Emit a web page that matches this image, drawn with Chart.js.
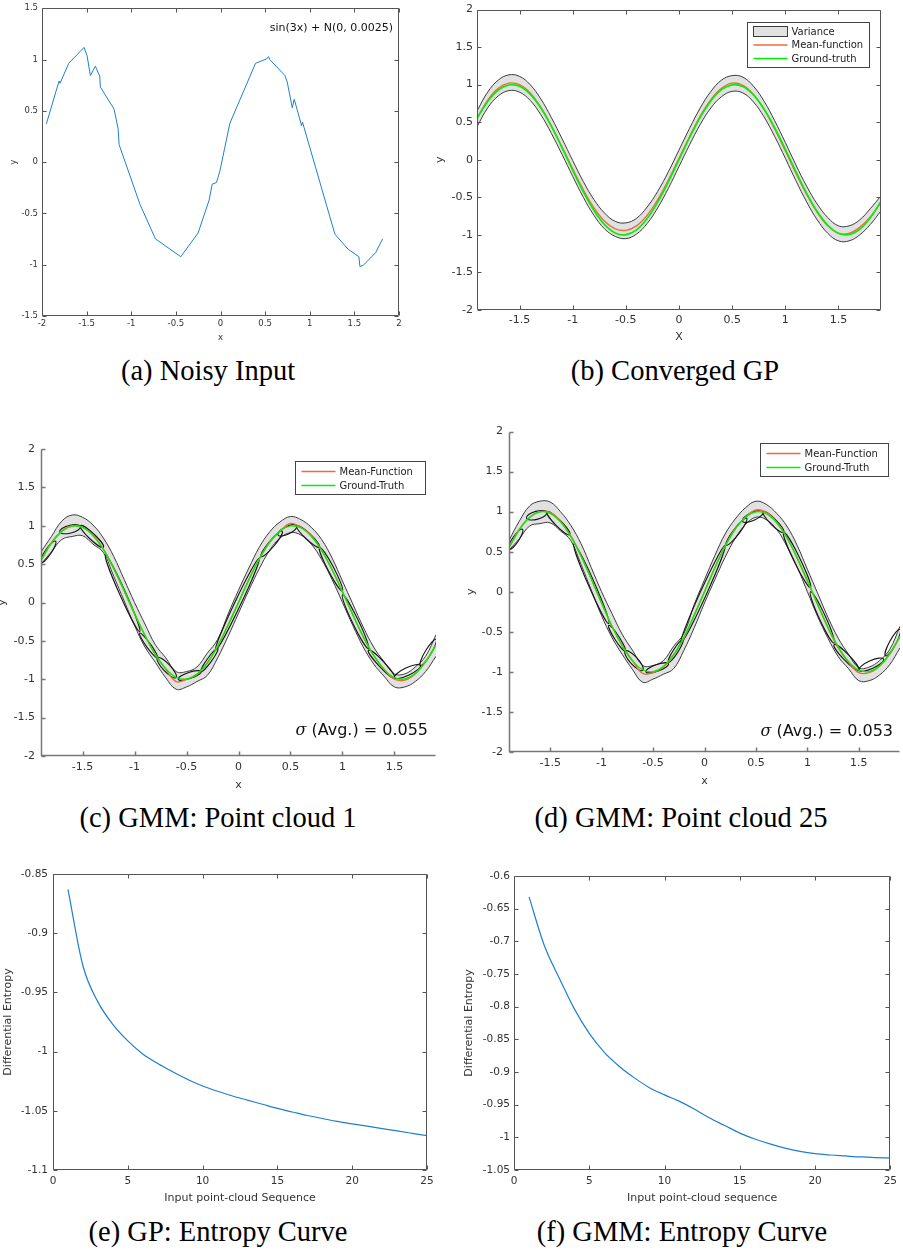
<!DOCTYPE html>
<html>
<head>
<meta charset="utf-8">
<script src="https://cdn.jsdelivr.net/npm/chart.js@4.4.1/dist/chart.umd.min.js"></script>
<style>
  html, body { margin: 0; padding: 0; background: #fff; }
  body { width: 903px; height: 1251px; position: relative; overflow: hidden; }
  .panel { position: absolute; }
  .caption {
    position: absolute; width: 450px; text-align: center;
    font-family: "Liberation Serif", "Times New Roman", serif; font-size: 28.5px; line-height: 30px; color: #000;
  }
</style>
</head>
<body>
<div class="panel" style="left:0;top:0;width:410px;height:345px"><canvas id="noisyChart"></canvas></div>
<div class="panel" style="left:432px;top:0;width:462px;height:345px"><canvas id="gpChart"></canvas></div>
<div class="panel" style="left:-6px;top:420px;width:451px;height:375px"><canvas id="gmm1Chart"></canvas></div>
<div class="panel" style="left:455px;top:420px;width:448px;height:375px"><canvas id="gmm25Chart"></canvas></div>
<div class="panel" style="left:0;top:860px;width:440px;height:350px"><canvas id="gpEntropyChart"></canvas></div>
<div class="panel" style="left:455px;top:860px;width:448px;height:350px"><canvas id="gmmEntropyChart"></canvas></div>

<div class="caption" style="left:-17px;top:356px">(a) Noisy Input</div>
<div class="caption" style="left:450px;top:356px">(b) Converged GP</div>
<div class="caption" style="left:-7px;top:803px">(c) GMM: Point cloud 1</div>
<div class="caption" style="left:456px;top:803px">(d) GMM: Point cloud 25</div>
<div class="caption" style="left:-7px;top:1217px">(e) GP: Entropy Curve</div>
<div class="caption" style="left:457px;top:1217px">(f) GMM: Entropy Curve</div>

<script>
// ---- data ----

// (a) noisy samples of sin(3x)
const noisyX = [-1.951, -1.809, -1.798, -1.70, -1.529, -1.495, -1.458, -1.402, -1.353, -1.346,
  -1.193, -1.148, -1.136, -0.901, -0.729, -0.445, -0.251, -0.127, -0.093, -0.045,
  -0.007, 0.105, 0.393, 0.516, 0.538, 0.553, 0.721, 0.748, 0.804, 0.826,
  0.908, 0.919, 1.282, 1.432, 1.551, 1.562, 1.600, 1.738, 1.817];
const noisyY = [0.373, 0.79, 0.768, 0.964, 1.118, 1.037, 0.845, 0.935, 0.838, 0.732,
  0.517, 0.331, 0.170, -0.414, -0.748, -0.922, -0.691, -0.369, -0.215, -0.199,
  -0.087, 0.379, 0.964, 1.005, 1.028, 0.999, 0.845, 0.780, 0.530, 0.613,
  0.357, 0.389, -0.703, -0.851, -0.922, -1.018, -1.005, -0.883, -0.748];

// common x grid for (b), (c), (d)
const gridX = [-1.9, -1.8, -1.7, -1.6, -1.5, -1.4, -1.3, -1.2, -1.1, -1.0,
  -0.9, -0.8, -0.7, -0.6, -0.5, -0.4, -0.3, -0.2, -0.1, 0,
  0.1, 0.2, 0.3, 0.4, 0.5, 0.6, 0.7, 0.8, 0.9, 1.0,
  1.1, 1.2, 1.3, 1.4, 1.5, 1.6, 1.7, 1.8, 1.9];
const groundTruth = [0.551, 0.773, 0.926, 0.996, 0.978, 0.872, 0.688, 0.443, 0.158, -0.141,
  -0.427, -0.675, -0.863, -0.974, -0.997, -0.932, -0.783, -0.565, -0.296, 0,
  0.296, 0.565, 0.783, 0.932, 0.997, 0.974, 0.863, 0.675, 0.427, 0.141,
  -0.158, -0.443, -0.688, -0.872, -0.978, -0.996, -0.926, -0.773, -0.551];

// (b) converged GP
const gpMean = [0.55, 0.79, 0.95, 1.02, 1.00, 0.89, 0.70, 0.45, 0.17, -0.12,
  -0.40, -0.64, -0.82, -0.92, -0.94, -0.88, -0.74, -0.53, -0.27, 0.02,
  0.31, 0.58, 0.80, 0.95, 1.02, 0.99, 0.87, 0.67, 0.41, 0.12,
  -0.18, -0.46, -0.70, -0.88, -0.98, -0.98, -0.90, -0.76, -0.57];
const gpUpper = [0.65, 0.90, 1.06, 1.13, 1.11, 1.00, 0.81, 0.56, 0.28, -0.01,
  -0.29, -0.53, -0.71, -0.82, -0.84, -0.78, -0.63, -0.42, -0.16, 0.13,
  0.42, 0.69, 0.91, 1.06, 1.12, 1.10, 0.98, 0.78, 0.52, 0.23,
  -0.07, -0.35, -0.59, -0.77, -0.88, -0.88, -0.80, -0.65, -0.48];
const gpLower = [0.44, 0.69, 0.85, 0.92, 0.90, 0.79, 0.60, 0.35, 0.07, -0.22,
  -0.50, -0.74, -0.92, -1.02, -1.05, -0.99, -0.85, -0.64, -0.38, -0.09,
  0.20, 0.47, 0.69, 0.84, 0.91, 0.89, 0.77, 0.57, 0.31, 0.02,
  -0.28, -0.56, -0.80, -0.98, -1.08, -1.08, -1.00, -0.86, -0.68];

// (c) GMM, point cloud 1
const gmm1Mean = [0.55, 0.78, 0.93, 1.00, 0.98, 0.88, 0.70, 0.44, 0.15, -0.15,
  -0.43, -0.68, -0.87, -1.03, -1.00, -0.94, -0.79, -0.57, -0.29, 0.00,
  0.30, 0.57, 0.79, 0.93, 1.03, 0.98, 0.87, 0.68, 0.43, 0.14,
  -0.16, -0.45, -0.69, -0.87, -1.00, -1.01, -0.93, -0.77, -0.55];
const gmm1Upper = [0.66, 0.86, 1.06, 1.14, 1.11, 1.01, 0.84, 0.60, 0.30, 0.00,
  -0.28, -0.55, -0.72, -0.90, -0.90, -0.84, -0.66, -0.48, -0.15, 0.16,
  0.45, 0.72, 0.92, 1.05, 1.12, 1.08, 0.98, 0.82, 0.58, 0.28,
  -0.02, -0.32, -0.58, -0.77, -0.93, -0.93, -0.84, -0.70, -0.42];
const gmm1Lower = [0.50, 0.66, 0.82, 0.86, 0.87, 0.76, 0.65, 0.34, 0.02, -0.30,
  -0.58, -0.78, -0.98, -1.13, -1.10, -1.03, -0.95, -0.72, -0.44, -0.14,
  0.16, 0.44, 0.68, 0.84, 0.91, 0.88, 0.76, 0.56, 0.30, 0.00,
  -0.30, -0.58, -0.80, -0.96, -1.10, -1.10, -1.03, -0.90, -0.70];
// components: [x1, y1, x2, y2, half-width]
const gmm1Components = [
  [-1.90, 0.52, -1.76, 0.80, 0.04], [-1.72, 0.92, -1.52, 0.99, 0.05], [-1.52, 1.00, -1.30, 0.72, 0.04],
  [-1.28, 0.62, -0.95, -0.38, 0.04], [-0.95, -0.40, -0.78, -0.72, 0.03], [-0.78, -0.72, -0.60, -0.98, 0.05],
  [-0.58, -1.00, -0.36, -0.90, 0.04], [-0.36, -0.90, -0.20, -0.60, 0.03], [-0.22, -0.62, 0.20, 0.58, 0.04],
  [0.22, 0.60, 0.42, 0.93, 0.04], [0.38, 0.88, 0.56, 1.00, 0.05], [0.56, 1.00, 0.78, 0.72, 0.04],
  [0.78, 0.72, 1.00, 0.15, 0.04], [1.00, 0.10, 1.25, -0.60, 0.04], [1.25, -0.62, 1.50, -0.98, 0.04],
  [1.50, -0.98, 1.75, -0.82, 0.05], [1.75, -0.82, 1.90, -0.48, 0.04]
];

// (d) GMM, point cloud 25
const gmm25Mean = [0.55, 0.78, 0.93, 1.00, 0.99, 0.88, 0.70, 0.45, 0.16, -0.14,
  -0.43, -0.67, -0.86, -1.02, -1.01, -0.94, -0.79, -0.58, -0.29, 0.00,
  0.30, 0.57, 0.79, 0.93, 1.02, 0.99, 0.87, 0.68, 0.42, 0.13,
  -0.16, -0.45, -0.70, -0.88, -1.01, -1.01, -0.93, -0.78, -0.56];
const gmm25Upper = [0.64, 0.88, 1.07, 1.13, 1.12, 1.00, 0.83, 0.60, 0.30, 0.00,
  -0.27, -0.53, -0.73, -0.92, -0.92, -0.86, -0.68, -0.52, -0.16, 0.15,
  0.45, 0.72, 0.91, 1.05, 1.13, 1.09, 0.98, 0.82, 0.58, 0.28,
  -0.02, -0.32, -0.58, -0.78, -0.95, -0.94, -0.86, -0.72, -0.43];
const gmm25Lower = [0.52, 0.66, 0.82, 0.85, 0.86, 0.76, 0.64, 0.34, 0.02, -0.30,
  -0.57, -0.78, -0.97, -1.13, -1.09, -1.03, -0.96, -0.73, -0.45, -0.14,
  0.15, 0.43, 0.67, 0.84, 0.93, 0.90, 0.78, 0.57, 0.31, 0.00,
  -0.31, -0.58, -0.81, -0.96, -1.11, -1.11, -1.04, -0.91, -0.70];
const gmm25Components = [
  [-1.90, 0.53, -1.77, 0.78, 0.04], [-1.73, 0.92, -1.53, 0.99, 0.05], [-1.53, 1.00, -1.31, 0.71, 0.04],
  [-1.27, 0.60, -0.93, -0.40, 0.04], [-0.93, -0.42, -0.77, -0.74, 0.03], [-0.77, -0.74, -0.60, -0.98, 0.05],
  [-0.57, -1.00, -0.35, -0.90, 0.04], [-0.35, -0.88, -0.21, -0.60, 0.03], [-0.23, -0.64, 0.20, 0.58, 0.04],
  [0.21, 0.58, 0.41, 0.92, 0.04], [0.37, 0.88, 0.57, 1.00, 0.05], [0.57, 1.00, 0.77, 0.74, 0.04],
  [0.77, 0.74, 1.03, 0.05, 0.04], [1.03, 0.00, 1.26, -0.64, 0.04], [1.26, -0.66, 1.50, -0.98, 0.04],
  [1.50, -0.98, 1.74, -0.84, 0.05], [1.76, -0.80, 1.90, -0.47, 0.04]
];

// (e) and (f) entropy curves
const sequence = [1, 2, 3, 4, 5, 6, 7, 8, 9, 10, 11, 12, 13, 14, 15, 16, 17, 18, 19, 20, 21, 22, 23, 24, 25];
const gpEntropy = [-0.863, -0.9275, -0.958, -0.977, -0.991, -1.002, -1.010, -1.017, -1.0235, -1.029,
  -1.0335, -1.0375, -1.041, -1.0445, -1.048, -1.051, -1.054, -1.0565, -1.059, -1.061,
  -1.063, -1.065, -1.067, -1.069, -1.071];
const gmmEntropy = [-0.632, -0.7055, -0.756, -0.803, -0.841, -0.870, -0.8915, -0.909, -0.924, -0.935,
  -0.945, -0.957, -0.9705, -0.982, -0.9935, -1.0025, -1.010, -1.0165, -1.0215, -1.025,
  -1.027, -1.0285, -1.030, -1.031, -1.0315];

// tick values
const noisyXTicks = [-2, -1.5, -1, -0.5, 0, 0.5, 1, 1.5, 2];
const noisyYTicks = [-1.5, -1, -0.5, 0, 0.5, 1, 1.5];
const sineXTicks = [-1.5, -1, -0.5, 0, 0.5, 1, 1.5];
const sineYTicks = [-2, -1.5, -1, -0.5, 0, 0.5, 1, 1.5, 2];
const seqTicks = [0, 5, 10, 15, 20, 25];
const gpEntropyTicks = [-1.1, -1.05, -1, -0.95, -0.9, -0.85];
const gmmEntropyTicks = [-1.05, -1, -0.95, -0.9, -0.85, -0.8, -0.75, -0.7, -0.65, -0.6];

// ---- styling ----
const FONT = '"DejaVu Sans", sans-serif';
const MEAN_COLOR = '#ee6a3c';
const TRUTH_COLOR = '#00f000';
const BAND_FILL = '#e1e1e1';
const BAND_EDGE = '#3c3c3c';
const BLUE = '#1f7fcc';

const pts = (xs, ys) => xs.map((x, i) => ({ x: x, y: ys[i] }));

// linear axis with fixed thickness so the plot box lands where the figure has it
function axis(o) {
    const horizontal = o.horizontal;
    return {
        type: 'linear',
        min: o.min,
        max: o.max,
        grid: { display: false, drawTicks: false },
        border: { display: false },
        afterBuildTicks: (s) => { s.ticks = o.ticks.map((v) => ({ value: v })); },
        afterFit: (s) => { if (horizontal) s.height = o.size; else s.width = o.size; },
        ticks: {
            color: '#333',
            padding: o.pad,
            maxRotation: 0,
            autoSkip: false,
            font: { family: FONT, size: o.font, lineHeight: 1 },
            callback: (v) => String(+Number(v).toFixed(3)),
        },
        title: {
            display: true,
            text: o.title,
            color: '#333',
            font: { family: FONT, size: o.titleFont, lineHeight: 1.2 },
            padding: horizontal ? { top: 0, bottom: o.titlePad } : { top: o.titlePad, bottom: 0 },
        },
    };
}

// matlab style frame with inward ticks
function frame(box, color, width) {
    return {
        id: 'frame',
        afterDatasetsDraw(chart) {
            const { ctx, chartArea: a, scales } = chart;
            const L = Math.round(a.left) + 0.5, R = Math.round(a.right) - 0.5;
            const T = Math.round(a.top) + 0.5, B = Math.round(a.bottom) - 0.5;
            const t = 4;
            ctx.save();
            ctx.strokeStyle = color;
            ctx.lineWidth = width;
            ctx.beginPath();
            ctx.moveTo(L, T); ctx.lineTo(L, B); ctx.lineTo(R, B);
            if (box) { ctx.lineTo(R, T); ctx.lineTo(L, T); }
            scales.x.ticks.forEach((tk, i) => {
                const px = Math.round(scales.x.getPixelForTick(i)) + 0.5;
                ctx.moveTo(px, B); ctx.lineTo(px, B - t);
                if (box) { ctx.moveTo(px, T); ctx.lineTo(px, T + t); }
            });
            scales.y.ticks.forEach((tk, i) => {
                const py = Math.round(scales.y.getPixelForTick(i)) + 0.5;
                ctx.moveTo(L, py); ctx.lineTo(L + t, py);
                if (box) { ctx.moveTo(R, py); ctx.lineTo(R - t, py); }
            });
            ctx.stroke();
            ctx.restore();
        },
    };
}

// boxed legend in the top right of the plot area
function boxLegend(items, box) {
    return {
        id: 'boxLegend',
        afterDraw(chart) {
            const { ctx, chartArea: a } = chart;
            const x0 = Math.round(a.right - box.right - box.w) + 0.5;
            const y0 = Math.round(a.top + box.top) + 0.5;
            ctx.save();
            ctx.fillStyle = '#fff';
            ctx.fillRect(x0, y0, box.w, box.h);
            ctx.strokeStyle = '#444';
            ctx.lineWidth = 1;
            ctx.strokeRect(x0, y0, box.w, box.h);
            ctx.font = '10px ' + FONT;
            ctx.textBaseline = 'middle';
            items.forEach((it, i) => {
                const cy = y0 + box.first + i * box.gap;
                if (it.patch) {
                    ctx.fillStyle = BAND_FILL;
                    ctx.fillRect(x0 + 6, cy - 5, 34, 10);
                    ctx.strokeStyle = BAND_EDGE;
                    ctx.strokeRect(x0 + 6, cy - 5, 34, 10);
                } else {
                    ctx.strokeStyle = it.color;
                    ctx.lineWidth = 1.5;
                    ctx.beginPath();
                    ctx.moveTo(x0 + 6, cy); ctx.lineTo(x0 + 40, cy);
                    ctx.stroke();
                    ctx.lineWidth = 1;
                }
                ctx.fillStyle = '#222';
                ctx.fillText(it.label, x0 + 44, cy + 0.5);
            });
            ctx.restore();
        },
    };
}

// text note inside the plot area, right aligned
function note(parts, dx, dy, fromBottom) {
    return {
        id: 'note',
        afterDraw(chart) {
            const { ctx, chartArea: a } = chart;
            ctx.save();
            ctx.textBaseline = 'middle';
            ctx.fillStyle = '#111';
            let total = 0;
            parts.forEach((p) => { ctx.font = p.font; total += ctx.measureText(p.text).width; });
            let x = a.right - dx - total;
            const y = fromBottom ? a.bottom - dy : a.top + dy;
            parts.forEach((p) => {
                ctx.font = p.font;
                ctx.fillText(p.text, x, y);
                x += ctx.measureText(p.text).width;
            });
            ctx.restore();
        },
    };
}

// GMM component outlines, drawn right after the band
function components(list, afterIndex) {
    return {
        id: 'components',
        afterDatasetDraw(chart, args) {
            if (args.index !== afterIndex) return;
            const { ctx, chartArea: a, scales: { x, y } } = chart;
            ctx.save();
            ctx.beginPath();
            ctx.rect(a.left, a.top, a.right - a.left, a.bottom - a.top);
            ctx.clip();
            ctx.strokeStyle = '#151515';
            ctx.lineWidth = 1.1;
            list.forEach(([x1, y1, x2, y2, w]) => {
                const ax = x.getPixelForValue(x1), ay = y.getPixelForValue(y1);
                const bx = x.getPixelForValue(x2), by = y.getPixelForValue(y2);
                const rx = Math.hypot(bx - ax, by - ay) / 2;
                const ry = Math.abs(y.getPixelForValue(0) - y.getPixelForValue(w));
                ctx.beginPath();
                ctx.ellipse((ax + bx) / 2, (ay + by) / 2, rx, ry, Math.atan2(by - ay, bx - ax), 0, Math.PI * 2);
                ctx.stroke();
            });
            ctx.restore();
        },
    };
}

function makeChart(id, datasets, xAxis, yAxis, padding, plugins) {
    return new Chart(document.getElementById(id), {
        type: 'line',
        data: { datasets: datasets },
        options: {
            responsive: true,
            maintainAspectRatio: false,
            animation: false,
            layout: { padding: padding },
            plugins: {
                legend: { display: false },
                tooltip: { enabled: false },
                filler: { drawTime: 'beforeDatasetsDraw' },
            },
            scales: { x: xAxis, y: yAxis },
        },
        plugins: plugins,
    });
}

function sineDatasets(mean, upper, lower, truthWidth) {
    return [
        { label: 'Ground-truth', data: pts(gridX, groundTruth), borderColor: TRUTH_COLOR, borderWidth: truthWidth, pointRadius: 0, tension: 0.4 },
        { label: 'Mean-function', data: pts(gridX, mean), borderColor: MEAN_COLOR, borderWidth: 1.4, pointRadius: 0, tension: 0.4 },
        { label: 'Variance', data: pts(gridX, upper), borderColor: BAND_EDGE, backgroundColor: BAND_FILL, borderWidth: 1, fill: '+1', pointRadius: 0, tension: 0.4 },
        { label: 'Lower', data: pts(gridX, lower), borderColor: BAND_EDGE, borderWidth: 1, fill: false, pointRadius: 0, tension: 0.4 },
    ];
}

// (a) noisy input
makeChart('noisyChart',
    [{ data: pts(noisyX, noisyY), borderColor: BLUE, borderWidth: 1, pointRadius: 0, tension: 0 }],
    axis({ horizontal: true, min: -2, max: 2, ticks: noisyXTicks, size: 29, pad: 4, font: 8.5, title: 'x', titleFont: 8.5, titlePad: 2 }),
    axis({ horizontal: false, min: -1.5, max: 1.5, ticks: noisyYTicks, size: 42, pad: 4, font: 8.5, title: 'y', titleFont: 8.5, titlePad: 9 }),
    { left: 0, top: 5, right: 11, bottom: 0 },
    [frame(true, '#555', 1), note([{ text: 'sin(3x) + N(0, 0.0025)', font: '11px ' + FONT }], 6, 20, false)]);

// (b) converged GP
makeChart('gpChart',
    sineDatasets(gpMean, gpUpper, gpLower, 1.6),
    axis({ horizontal: true, min: -1.9, max: 1.9, ticks: sineXTicks, size: 35, pad: 5, font: 11, title: 'X', titleFont: 11, titlePad: 1 }),
    axis({ horizontal: false, min: -2, max: 2, ticks: sineYTicks, size: 45, pad: 4, font: 11, title: 'y', titleFont: 11, titlePad: 2 }),
    { left: 0, top: 5, right: 13, bottom: 0 },
    [frame(true, '#555', 1), boxLegend([
        { label: 'Variance', patch: true },
        { label: 'Mean-function', color: MEAN_COLOR },
        { label: 'Ground-truth', color: TRUTH_COLOR },
    ], { right: 12, top: 12, w: 122, h: 45, first: 9, gap: 13.5 })]);

// (c) GMM point cloud 1
makeChart('gmm1Chart',
    sineDatasets(gmm1Mean, gmm1Upper, gmm1Lower, 1.3),
    axis({ horizontal: true, min: -1.9, max: 1.9, ticks: sineXTicks, size: 39, pad: 6, font: 11, title: 'x', titleFont: 11, titlePad: 3 }),
    axis({ horizontal: false, min: -2, max: 2, ticks: sineYTicks, size: 47, pad: 6, font: 11, title: 'y', titleFont: 11, titlePad: 2 }),
    { left: 0, top: 29, right: 9, bottom: 0 },
    [components(gmm1Components, 2), frame(false, '#777', 1.5),
     boxLegend([
        { label: 'Mean-Function', color: MEAN_COLOR },
        { label: 'Ground-Truth', color: TRUTH_COLOR },
     ], { right: 11, top: 12, w: 130, h: 33, first: 10, gap: 14 }),
     note([{ text: 'σ', font: 'italic 16px "DejaVu Serif", serif' }, { text: ' (Avg.) = 0.055', font: '16px ' + FONT }], 8, 25, true)]);

// (d) GMM point cloud 25
makeChart('gmm25Chart',
    sineDatasets(gmm25Mean, gmm25Upper, gmm25Lower, 1.3),
    axis({ horizontal: true, min: -1.9, max: 1.9, ticks: sineXTicks, size: 43, pad: 6, font: 11, title: 'x', titleFont: 11, titlePad: 7 }),
    axis({ horizontal: false, min: -2, max: 2, ticks: sineYTicks, size: 54, pad: 6, font: 11, title: 'y', titleFont: 11, titlePad: 10 }),
    { left: 0, top: 8, right: 3, bottom: 0 },
    [components(gmm25Components, 2), frame(false, '#777', 1.5),
     boxLegend([
        { label: 'Mean-Function', color: MEAN_COLOR },
        { label: 'Ground-Truth', color: TRUTH_COLOR },
     ], { right: 12, top: 11, w: 128, h: 33, first: 10, gap: 14 }),
     note([{ text: 'σ', font: 'italic 16px "DejaVu Serif", serif' }, { text: ' (Avg.) = 0.053', font: '16px ' + FONT }], 7, 20, true)]);

// (e) GP entropy curve
makeChart('gpEntropyChart',
    [{ data: pts(sequence, gpEntropy), borderColor: BLUE, borderWidth: 1.2, pointRadius: 0, cubicInterpolationMode: 'monotone' }],
    axis({ horizontal: true, min: 0, max: 25, ticks: seqTicks, size: 40, pad: 6, font: 10.5, title: 'Input point-cloud Sequence', titleFont: 11, titlePad: 5 }),
    axis({ horizontal: false, min: -1.1, max: -0.85, ticks: gpEntropyTicks, size: 53, pad: 5, font: 10.5, title: 'Differential Entropy', titleFont: 11, titlePad: 2 }),
    { left: 0, top: 14, right: 13, bottom: 0 },
    [frame(true, '#555', 1)]);

// (f) GMM entropy curve
makeChart('gmmEntropyChart',
    [{ data: pts(sequence, gmmEntropy), borderColor: BLUE, borderWidth: 1.2, pointRadius: 0, cubicInterpolationMode: 'monotone' }],
    axis({ horizontal: true, min: 0, max: 25, ticks: seqTicks, size: 40, pad: 6, font: 10.5, title: 'Input point-cloud sequence', titleFont: 11, titlePad: 5 }),
    axis({ horizontal: false, min: -1.05, max: -0.6, ticks: gmmEntropyTicks, size: 59, pad: 4, font: 10.5, title: 'Differential Entropy', titleFont: 11, titlePad: 8 }),
    { left: 0, top: 16, right: 7, bottom: 0 },
    [frame(true, '#555', 1)]);
</script>
</body>
</html>
